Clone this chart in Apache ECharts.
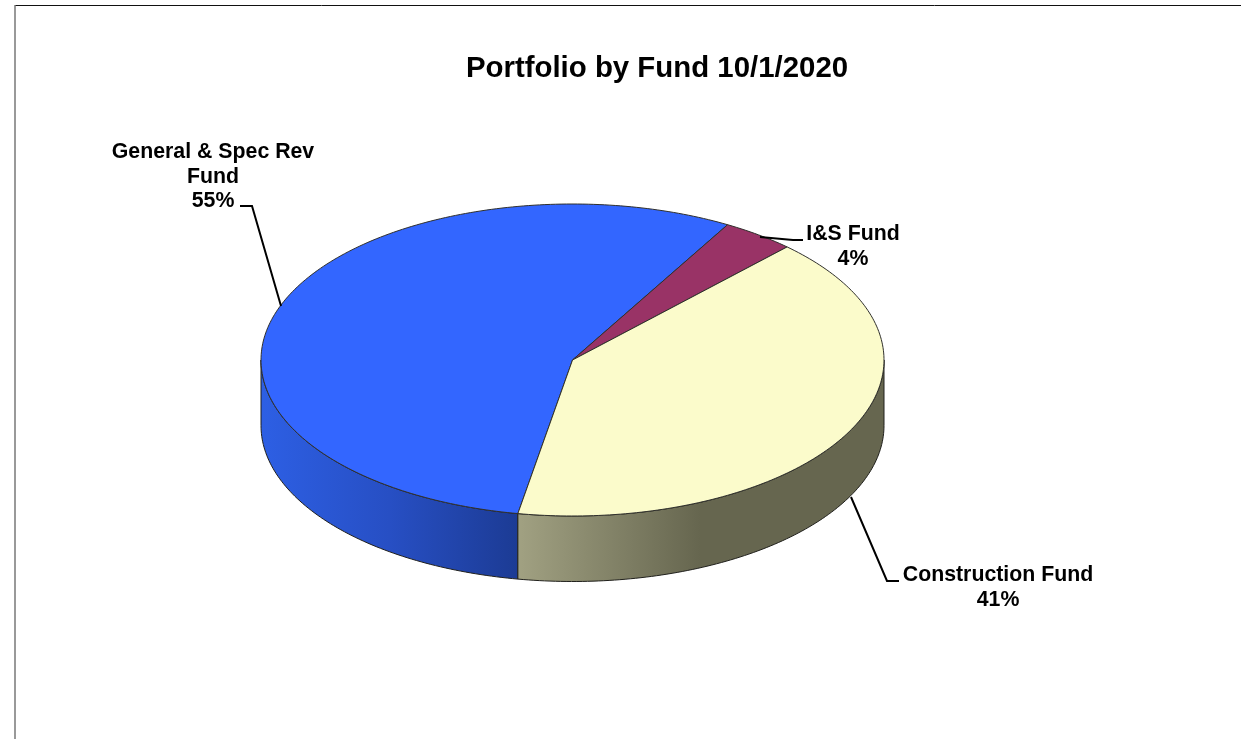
<!DOCTYPE html>
<html>
<head>
<meta charset="utf-8">
<style>html,body{margin:0;padding:0;background:#fff}#c{width:1241px;height:739px}</style>
<script src="https://cdn.jsdelivr.net/npm/echarts@6/dist/echarts.min.js"></script>
</head>
<body>
<div id="c"></div>
<script>
const funds = ['General & Spec Rev\nFund', 'I&S Fund', 'Construction Fund'];
const shares = [55.49, 3.8, 40.71];

const colors = ['#3366ff', '#993366', '#fbfbcb'];
const CX = 572.5, CY = 360, RX = 311.5, RY = 156, DEPTH = 65.5;
const START = 190.1; // degrees clockwise from the top of the ellipse
const total = shares.reduce((a, b) => a + b, 0);
const labelLayout = [
  { x: 213, y: 152, line: [[281, 306], [252, 206], [240, 206]] },
  { x: 853, y: 234, line: [[760, 237], [793, 240], [803, 240]] },
  { x: 998, y: 575, line: [[851, 497], [887, 581], [899, 581]] }
];
const wallFills = [
  new echarts.graphic.LinearGradient(261, 0, 518, 0, [
    { offset: 0, color: '#2d5fe4' }, { offset: 0.5, color: '#274fc4' }, { offset: 1, color: '#1c3b94' }], true),
  '#6b2447',
  new echarts.graphic.LinearGradient(518, 0, 700, 0, [
    { offset: 0, color: '#a1a182' }, { offset: 1, color: '#66664f' }], true)
];

function pt(deg, dy) {
  const r = deg * Math.PI / 180;
  return [CX + RX * Math.sin(r), CY - RY * Math.cos(r) + (dy || 0)];
}
function arc(a, b, dy) {
  const out = [], n = Math.max(2, Math.ceil(Math.abs(b - a)));
  for (let i = 0; i <= n; i++) out.push(pt(a + (b - a) * i / n, dy));
  return out;
}
const sliceAngles = [];
shares.reduce((acc, v) => {
  const e = acc + v / total * 360;
  const shift = acc >= 360 ? 360 : 0;
  sliceAngles.push([acc - shift, e - shift]);
  return e;
}, START);

function renderSlice(params, api) {
  const i = api.value(0);
  const [a, b] = sliceAngles[i];
  const children = [];
  const wa = Math.max(a, 90), wb = Math.min(b, 270);
  if (wb > wa) {
    children.push({
      type: 'polygon', silent: true,
      shape: { points: arc(wa, wb, 0).concat(arc(wb, wa, DEPTH)) },
      style: { fill: wallFills[i], stroke: '#20201c', lineWidth: 1 }
    });
  }
  children.push({
    type: 'polygon', silent: true,
    shape: { points: [[CX, CY]].concat(arc(a, b, 0)) },
    style: { fill: colors[i], stroke: '#30302c', lineWidth: 1, lineJoin: 'round' }
  });
  const lay = labelLayout[i];
  children.push({
    type: 'polyline', silent: true, shape: { points: lay.line },
    style: { fill: null, stroke: '#000', lineWidth: 2 }
  });
  children.push({
    type: 'text', silent: true, x: lay.x, y: lay.y - 12,
    style: {
      text: funds[i] + '\n' + Math.round(shares[i]) + '%',
      fill: '#000', align: 'center', verticalAlign: 'top',
      font: 'bold 21.3px "Liberation Sans", Arial, sans-serif', lineHeight: 24.5
    }
  });
  return { type: 'group', children };
}

const chart = echarts.init(document.getElementById('c'), null, { renderer: 'canvas' });
chart.setOption({
  animation: false,
  backgroundColor: '#fff',
  title: {
    text: 'Portfolio by Fund 10/1/2020', left: 652, top: 49, textAlign: 'center',
    textStyle: { fontFamily: '"Liberation Sans", Arial, sans-serif', fontWeight: 'bold', fontSize: 29.4, color: '#000' }
  },
  graphic: [
    { type: 'line', silent: true, shape: { x1: 15, y1: 5.5, x2: 1241, y2: 5.5 }, style: { stroke: '#111', lineWidth: 1 } },
    { type: 'line', silent: true, shape: { x1: 15, y1: 5, x2: 15, y2: 739 }, style: { stroke: '#777', lineWidth: 1.5 } }
  ],
  series: [{
    type: 'custom',
    coordinateSystem: 'none',
    clip: false,
    silent: true,
    encode: { value: 1 },
    data: shares.map((v, i) => [i, v]),
    renderItem: renderSlice
  }]
});
</script>
</body>
</html>
